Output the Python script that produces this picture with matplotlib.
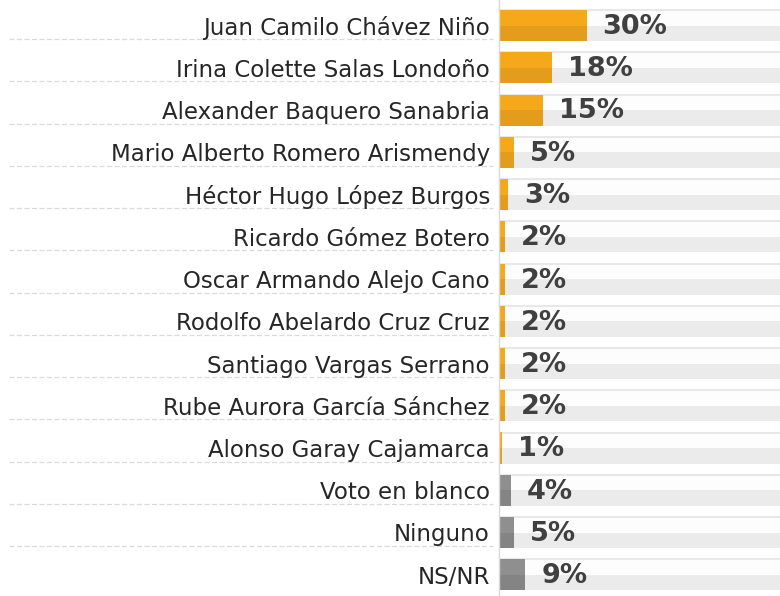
import matplotlib
matplotlib.use("Agg")
import matplotlib.pyplot as plt

categories = [
    "Juan Camilo Chávez Niño",
    "Irina Colette Salas Londoño",
    "Alexander Baquero Sanabria",
    "Mario Alberto Romero Arismendy",
    "Héctor Hugo López Burgos",
    "Ricardo Gómez Botero",
    "Oscar Armando Alejo Cano",
    "Rodolfo Abelardo Cruz Cruz",
    "Santiago Vargas Serrano",
    "Rube Aurora García Sánchez",
    "Alonso Garay Cajamarca",
    "Voto en blanco",
    "Ninguno",
    "NS/NR",
]
values = [30, 18, 15, 5, 3, 2, 2, 2, 2, 2, 1, 4, 5, 9]
labels = ["30%", "18%", "15%", "5%", "3%", "2%", "2%", "2%", "2%", "2%", "1%", "4%", "5%", "9%"]
is_candidate = [True] * 11 + [False] * 3

W, H = 780, 596
fig = plt.figure(figsize=(W / 100, H / 100), dpi=100)
left_px = 499
ax = fig.add_axes([left_px / W, 0, 1 - left_px / W, 1])

pitch = 42.25
c0 = 25.5
xmax = 96.2
ax.set_xlim(0, xmax)
ax.set_ylim((H - c0) / pitch, -c0 / pitch)

bh = 31 / pitch
half = bh / 2
n = len(categories)
ys = list(range(n))

# background bands
ax.barh([y - half / 2 for y in ys], [xmax] * n, height=half, color="#FDFDFD", left=0, zorder=1)
ax.barh([y + half / 2 for y in ys], [xmax] * n, height=half, color="#EBEBEB", left=0, zorder=1)
ax.hlines([y - half for y in ys], 0, xmax, color="#E8E8E8", lw=1.5, zorder=1.5)

top_cols = ["#F6A81B" if c else "#8F8F8F" for c in is_candidate]
bot_cols = ["#E49C1D" if c else "#848484" for c in is_candidate]
ax.barh([y - half / 2 for y in ys], values, height=half, color=top_cols, zorder=2)
ax.barh([y + half / 2 for y in ys], values, height=half, color=bot_cols, zorder=2)

for y, v, lab in zip(ys, values, labels):
    ax.annotate(lab, (v, y), xytext=(16, -1.5), textcoords="offset pixels",
                ha="left", va="center", fontsize=19.5, fontweight="bold",
                color="#404040", family="DejaVu Sans", zorder=3)

# dashed separators
tr = ax.get_yaxis_transform()
x0 = (9 - left_px) / (W - left_px)
x1 = (493 - left_px) / (W - left_px)
for y in ys[:-1]:
    ax.plot([x0, x1], [y + 13.5 / pitch] * 2, transform=tr, clip_on=False,
            color="#DADADA", lw=0.9, ls=(0, (4, 2)), zorder=1)

ax.set_yticks(ys)
ax.set_yticklabels(categories, fontsize=16.5, color="#262626", family="DejaVu Sans")
ax.tick_params(axis="y", length=0, pad=6.5)
ax.set_xticks([])
for s in ["top", "right", "bottom"]:
    ax.spines[s].set_visible(False)
ax.spines["left"].set_color("#D9D9D9")
ax.spines["left"].set_linewidth(1)
ax.spines["left"].set_zorder(4)

fig.savefig("out.png", dpi=100)
